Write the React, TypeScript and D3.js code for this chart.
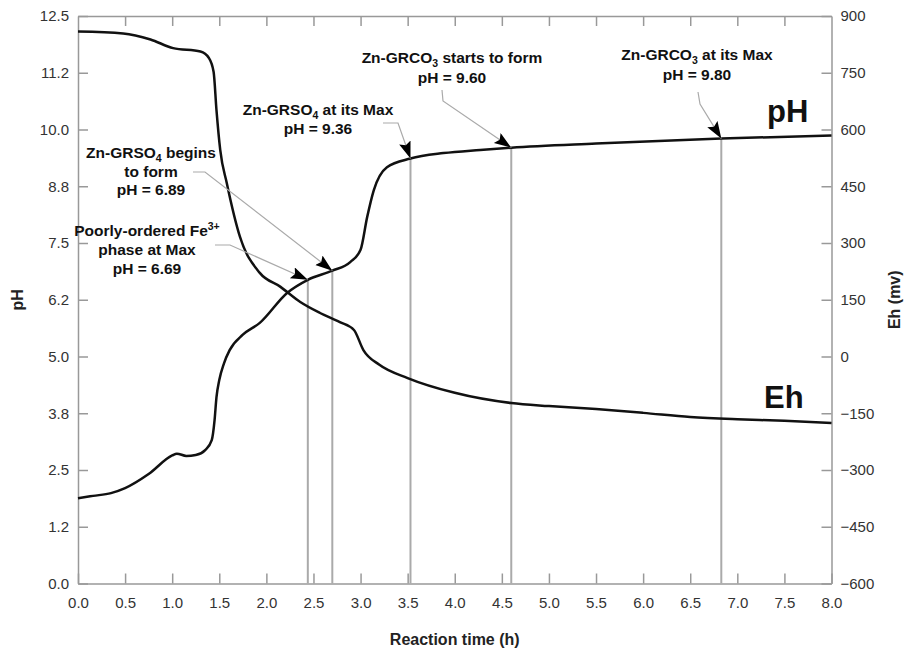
import React, { useEffect, useRef } from "react";
import * as d3 from "d3";

// pH readings (time in h, pH)
const phTime = [0, 0.16, 0.35, 0.5, 0.75, 1.0, 1.05, 1.15, 1.25, 1.35, 1.42, 1.45, 1.47, 1.5, 1.55, 1.61, 1.75, 1.93, 2.22, 2.44, 2.7, 2.89, 3.0, 3.07, 3.14, 3.28, 3.53, 3.88, 4.27, 4.6, 5.5, 6.83, 8.0];
const phValue = [1.88, 1.93, 1.99, 2.1, 2.41, 2.82, 2.86, 2.81, 2.83, 2.94, 3.16, 3.6, 4.1, 4.48, 4.85, 5.14, 5.48, 5.74, 6.4, 6.69, 6.89, 7.08, 7.35, 8.07, 8.66, 9.17, 9.36, 9.48, 9.55, 9.6, 9.69, 9.8, 9.87];

// Eh readings (time in h, mV)
const ehTime = [0, 0.48, 0.77, 1.01, 1.3, 1.39, 1.44, 1.47, 1.51, 1.58, 1.72, 1.93, 2.15, 2.36, 2.57, 2.78, 2.93, 3.03, 3.2, 3.5, 4.0, 4.6, 5.0, 5.5, 6.0, 6.5, 7.0, 7.5, 8.0];
const ehValue = [859, 854, 838, 815, 806, 789, 752, 652, 546, 458, 316, 221, 184, 144, 115, 91, 70, 17, -22, -57, -96, -123, -131, -139, -149, -160, -166, -170, -176];

const xTicks = [0, 0.5, 1, 1.5, 2, 2.5, 3, 3.5, 4, 4.5, 5, 5.5, 6, 6.5, 7, 7.5, 8];
const phTicks = [0, 1.25, 2.5, 3.75, 5, 6.25, 7.5, 8.75, 10, 11.25, 12.5];
const phTickLabels = ["0.0", "1.2", "2.5", "3.8", "5.0", "6.2", "7.5", "8.8", "10.0", "11.2", "12.5"];
const ehTicks = [-600, -450, -300, -150, 0, 150, 300, 450, 600, 750, 900];

// annotations: time, pH, text lines (segments: [text, kind])
const annoTime = [2.44, 2.7, 3.53, 4.6, 6.83];
const annoPH = [6.69, 6.89, 9.36, 9.6, 9.8];
const annoLines: [string, string][][][] = [
  [[["Poorly-ordered Fe", ""], ["3+", "sup"]], [["phase at Max", ""]], [["pH = 6.69", ""]]],
  [[["Zn-GRSO", ""], ["4", "sub"], [" begins", ""]], [["to form", ""]], [["pH = 6.89", ""]]],
  [[["Zn-GRSO", ""], ["4", "sub"], [" at its Max", ""]], [["pH = 9.36", ""]]],
  [[["Zn-GRCO", ""], ["3", "sub"], [" starts to form", ""]], [["pH = 9.60", ""]]],
  [[["Zn-GRCO", ""], ["3", "sub"], [" at its Max", ""]], [["pH = 9.80", ""]]],
];
// layout for each annotation: text centre x, first baseline, line step, leader start and elbow
const annoLayout = [
  { cx: 147, y: 236, step: 19, sx: 215, sy: 245, ex: 230, ey: 245 },
  { cx: 151, y: 158, step: 18.5, sx: 193, sy: 172, ex: 205, ey: 172 },
  { cx: 318, y: 115, step: 19, sx: 383, sy: 123, ex: 398, ey: 123 },
  { cx: 452, y: 63, step: 19.5, sx: 442, sy: 90, ex: 443, ey: 101 },
  { cx: 697, y: 60, step: 20, sx: 698, sy: 92, ex: 700, ey: 104 },
];

const FONT = "'Liberation Sans', Arial, Helvetica, sans-serif";

export default function App() {
  const ref = useRef<SVGSVGElement>(null);

  useEffect(() => {
    const svg = d3.select(ref.current);
    svg.selectAll("*").remove();

    const left = 78, right = 831.5, top = 16, bottom = 583.5;
    const x = d3.scaleLinear().domain([0, 8]).range([left, right]);
    const yPH = d3.scaleLinear().domain([0, 12.5]).range([bottom, top]);
    const yEh = d3.scaleLinear().domain([-600, 900]).range([bottom, top]);

    const frameColor = "#999";
    const tickColor = "#333";

    // axes, ticks point inwards
    const gx = svg.append("g").attr("transform", `translate(0,${bottom})`)
      .call(d3.axisBottom(x).tickValues(xTicks).tickFormat(d3.format(".1f")).tickSize(-10).tickSizeOuter(0).tickPadding(14));
    const gxt = svg.append("g").attr("transform", `translate(0,${top})`)
      .call(d3.axisTop(x).tickValues(xTicks).tickFormat(() => "").tickSize(-10).tickSizeOuter(0));
    const gl = svg.append("g").attr("transform", `translate(${left},0)`)
      .call(d3.axisLeft(yPH).tickValues(phTicks).tickFormat((d, i) => phTickLabels[i]).tickSize(-10).tickSizeOuter(0).tickPadding(9));
    const gr = svg.append("g").attr("transform", `translate(${right},0)`)
      .call(d3.axisRight(yEh).tickValues(ehTicks).tickFormat(d3.format("d")).tickSize(-10).tickSizeOuter(0).tickPadding(9));

    [gx, gxt, gl, gr].forEach((g) => {
      g.select(".domain").attr("stroke", frameColor).attr("stroke-width", 1.5);
      g.selectAll(".tick line").attr("stroke", frameColor).attr("stroke-width", 1.5);
      g.selectAll(".tick text").attr("fill", tickColor).style("font-family", FONT).style("font-size", "15px");
    });
    gxt.selectAll(".tick").filter((d: any) => d === 0 || d === 8).remove();

    // vertical markers from the axis up to the pH curve
    svg.append("g").selectAll("line").data(annoTime).enter().append("line")
      .attr("x1", (d) => x(d)).attr("x2", (d) => x(d))
      .attr("y1", bottom).attr("y2", (d, i) => yPH(annoPH[i]))
      .attr("stroke", "#aaa").attr("stroke-width", 2);

    // curves
    const phLine = d3.line<number>().x((d, i) => x(phTime[i])).y((d) => yPH(d)).curve(d3.curveMonotoneX);
    const ehLine = d3.line<number>().x((d, i) => x(ehTime[i])).y((d) => yEh(d)).curve(d3.curveMonotoneX);
    svg.append("path").attr("d", ehLine(ehValue)).attr("fill", "none").attr("stroke", "#111").attr("stroke-width", 2.5);
    svg.append("path").attr("d", phLine(phValue)).attr("fill", "none").attr("stroke", "#111").attr("stroke-width", 2.5);

    // arrow head
    svg.append("defs").append("marker")
      .attr("id", "arrow").attr("markerUnits", "userSpaceOnUse")
      .attr("markerWidth", 20).attr("markerHeight", 14)
      .attr("refX", 17).attr("refY", 6).attr("orient", "auto")
      .append("path").attr("d", "M0,0 L17,6 L0,12 L3,6 Z").attr("fill", "#000");

    // leaders
    annoLayout.forEach((a, i) => {
      const tx = x(annoTime[i]), ty = yPH(annoPH[i]);
      svg.append("path")
        .attr("d", `M${a.sx},${a.sy} L${a.ex},${a.ey} L${tx},${ty}`)
        .attr("fill", "none").attr("stroke", "#aaa").attr("stroke-width", 1.2)
        .attr("marker-end", "url(#arrow)");
    });

    // annotation text
    annoLayout.forEach((a, i) => {
      annoLines[i].forEach((line, j) => {
        const t = svg.append("text")
          .attr("x", a.cx).attr("y", a.y + j * a.step)
          .attr("text-anchor", "middle")
          .style("font-family", FONT).style("font-size", "15.5px").style("font-weight", "bold")
          .attr("fill", "#111");
        line.forEach(([s, kind], k) => {
          const ts = t.append("tspan").text(s);
          if (kind === "sub") ts.attr("dy", 4).style("font-size", "10.5px");
          else if (kind === "sup") ts.attr("dy", -6).style("font-size", "10.5px");
          else if (k > 0 && line[k - 1][1] === "sub") ts.attr("dy", -4);
          else if (k > 0 && line[k - 1][1] === "sup") ts.attr("dy", 6);
        });
      });
    });

    // series labels
    svg.append("text").attr("x", 767).attr("y", 122).text("pH")
      .style("font-family", FONT).style("font-size", "31px").style("font-weight", "bold").attr("fill", "#111");
    svg.append("text").attr("x", 764).attr("y", 408).text("Eh")
      .style("font-family", FONT).style("font-size", "31px").style("font-weight", "bold").attr("fill", "#111");

    // axis titles
    svg.append("text").attr("transform", `translate(23,${(top + bottom) / 2}) rotate(-90)`)
      .attr("text-anchor", "middle").text("pH")
      .style("font-family", FONT).style("font-size", "16px").style("font-weight", "bold").attr("fill", "#222");
    svg.append("text").attr("transform", `translate(900,${(top + bottom) / 2}) rotate(-90)`)
      .attr("text-anchor", "middle").text("Eh (mv)")
      .style("font-family", FONT).style("font-size", "16px").style("font-weight", "bold").attr("fill", "#222");
    svg.append("text").attr("x", (left + right) / 2).attr("y", 645)
      .attr("text-anchor", "middle").text("Reaction time (h)")
      .style("font-family", FONT).style("font-size", "16px").style("font-weight", "bold").attr("fill", "#222");
  }, []);

  return (
    <svg ref={ref} width={910} height={651}
      style={{ position: "absolute", left: 0, top: 0, background: "#fff" }} />
  );
}
